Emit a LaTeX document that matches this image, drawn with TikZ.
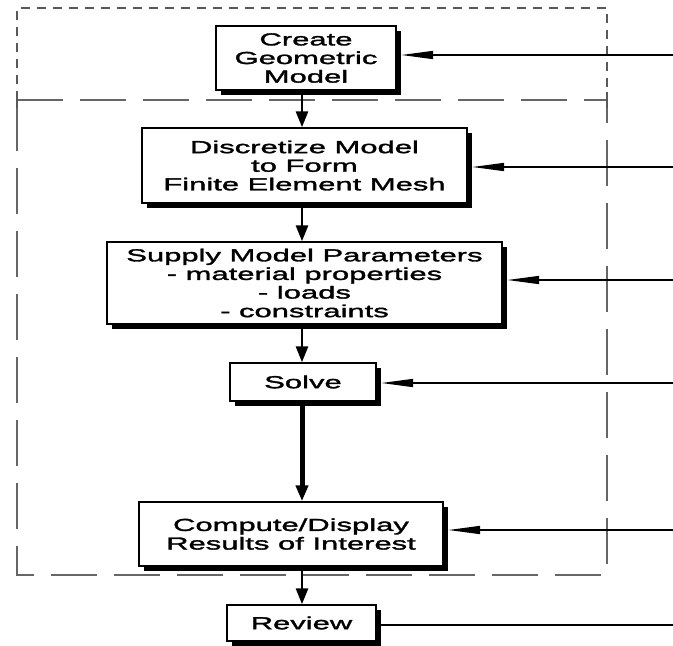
\documentclass[tikz,border=0pt]{standalone}
\usepackage{fontspec}
\newfontfamily\diafont[FakeStretch=1.78,FakeBold=1.8]{Liberation Sans}
\usetikzlibrary{arrows.meta,shadows}
\begin{document}
\begin{tikzpicture}[x=1pt,y=-1pt,
  box/.style={draw=black, line width=1.4pt, fill=white, inner sep=0pt,
    align=center, font=\diafont\fontsize{17.4}{18.6}\selectfont,
    general shadow={fill=black, shadow xshift=4.5pt, shadow yshift=-4.5pt}},
  flow/.style={line width=2.8pt, -{Triangle[width=12pt,length=16pt]}},
  flowthick/.style={line width=5pt, -{Triangle[width=12pt,length=16pt]}},
  fb/.style={line width=1.6pt, -{Triangle[length=32pt,width=8pt]}, shorten >=4.5pt},
  fbplain/.style={line width=1.6pt, shorten <=4.5pt},
  upperframe/.style={draw=black!65, line width=1.1pt, dash pattern=on 9pt off 7pt},
  lowerframe/.style={draw=black!60, line width=1.2pt, dash pattern=on 46pt off 17pt},
  tick/.style={draw=black!65, line width=1.2pt}
]
\useasboundingbox (0,0) rectangle (673,646);
\fill[white] (0,0) rectangle (673,646);

% frames
\draw[upperframe] (17,100) -- (17,8) -- (607,8) -- (607,100);
\draw[lowerframe] (17,100) -- (607,100) -- (607,575) -- (17,575) -- cycle;
\draw[tick] (17,92) -- (17,108);
\draw[tick] (607,92) -- (607,108);

% boxes
\node[box, minimum width=180pt, minimum height=64pt] (create) at (306,58)
  {Create\\Geometric\\Model};
\node[box, minimum width=325pt, minimum height=75pt] (disc) at (304.5,165.5)
  {Discretize Model\\to Form\\Finite Element Mesh};
\node[box, minimum width=395pt, minimum height=82pt] (supply) at (304.5,283)
  {Supply Model Parameters\\- material properties\\- loads\\- constraints};
\node[box, minimum width=146pt, minimum height=38pt] (solve) at (303,382)
  {Solve};
\node[box, minimum width=304pt, minimum height=64pt] (compute) at (291,534)
  {Compute/Display\\Results of Interest};
\node[box, minimum width=149pt, minimum height=36pt] (review) at (301.5,623)
  {Review};

% column for the down arrows
\coordinate (col) at (302,0);
\draw[flow] ([yshift=-4.5pt]create.south -| col) -- (disc.north -| col);
\draw[flow] ([yshift=-4.5pt]disc.south -| col) -- (supply.north -| col);
\draw[flow] ([yshift=-4.5pt]supply.south -| col) -- (solve.north -| col);
\draw[flowthick] ([yshift=-4.5pt]solve.south -| col) -- (compute.north -| col);
\draw[flow] ([yshift=-4.5pt]compute.south -| col) -- (review.north -| col);

% feedback lines from the right edge
\coordinate (e1) at (673,55);
\coordinate (e2) at (673,167);
\coordinate (e3) at (673,280);
\coordinate (e4) at (673,383);
\coordinate (e5) at (673,530);
\coordinate (e6) at (673,625);
\draw[fb] (e1) -- (e1 -| create.east);
\draw[fb] (e2) -- (e2 -| disc.east);
\draw[fb] (e3) -- (e3 -| supply.east);
\draw[fb] (e4) -- (e4 -| solve.east);
\draw[fb] (e5) -- (e5 -| compute.east);
\draw[fbplain] (e6 -| review.east) -- (e6);
\end{tikzpicture}
\end{document}
